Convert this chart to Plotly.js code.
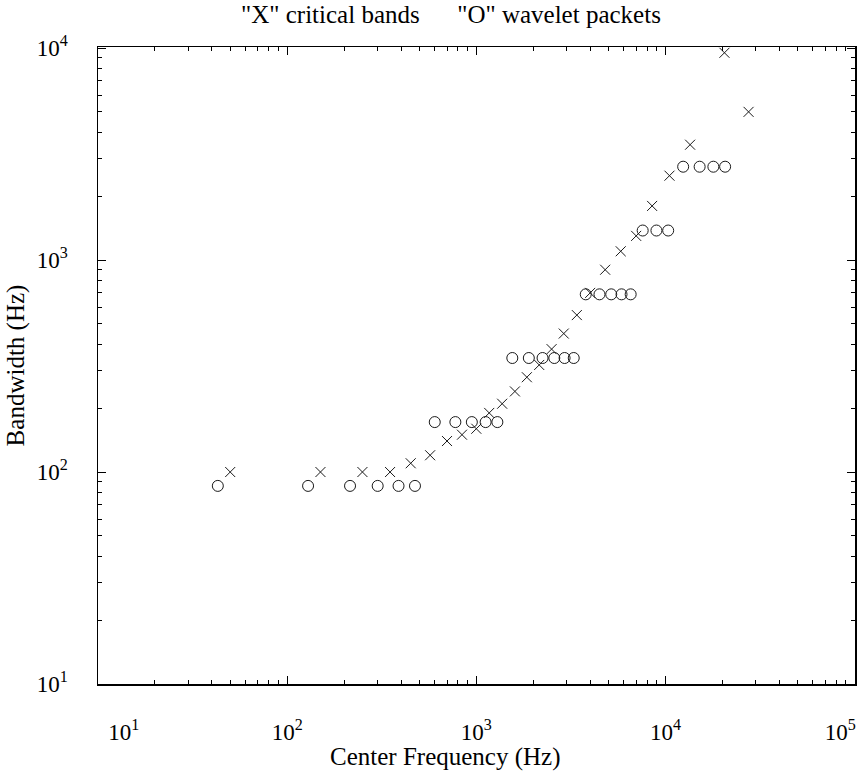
<!DOCTYPE html>
<html>
<head>
<meta charset="utf-8">
<script src="https://cdn.plot.ly/plotly-3.0.1.min.js"></script>
<style>html,body{margin:0;padding:0;background:#fff;}#chart{width:859px;height:771px;}</style>
</head>
<body>
<div id="chart"></div>
<script>
// Critical bands ("X")
const cbFreq = [50, 150, 250, 350, 450, 570, 700, 840, 1000, 1170, 1370, 1600, 1850, 2150, 2500, 2900, 3400, 4000, 4800, 5800, 7000, 8500, 10500, 13500, 20500, 27500];
const cbBw   = [100, 100, 100, 100, 110, 120, 140, 150, 160, 190, 210, 240, 280, 320, 380, 450, 550, 700, 900, 1100, 1300, 1800, 2500, 3500, 9500, 5000];
// Wavelet packets ("O")
const wpFreq = [43, 129, 215, 301, 388, 474, 603, 775, 947, 1120, 1292, 1550, 1895, 2240, 2584, 2929, 3273, 3790, 4479, 5168, 5857, 6546, 7579, 8958, 10336, 12403, 15159, 17916, 20672];
const wpBw   = [86, 86, 86, 86, 86, 86, 172, 172, 172, 172, 172, 345, 345, 345, 345, 345, 345, 689, 689, 689, 689, 689, 1378, 1378, 1378, 2756, 2756, 2756, 2756];
// Axis ticks
const NB = '\u00A0';
const ZW = '\u200B';
const xTickVals = [10, 100, 1000, 10000, 100000];
const xTickText = [NB.repeat(9) + '10<sup>1</sup>', '10<sup>2</sup>', '10<sup>3</sup>', '10<sup>4</sup>', '10<sup>5</sup>' + NB.repeat(5)];
const yTickVals = [10, 100, 1000, 10000];
const yTickText = ['10<sup>1</sup>', '10<sup>2</sup>', '10<sup>3</sup>', '10<sup>4</sup>'];

const ink = '#1a1a1a';
const serif = 'Liberation Serif, serif';

const traces = [
  {x: cbFreq, y: cbBw, type: 'scatter', mode: 'markers', name: 'critical bands',
   marker: {symbol: 'x-thin-open', size: 10, color: ink, line: {width: 1, color: ink}}},
  {x: wpFreq, y: wpBw, type: 'scatter', mode: 'markers', name: 'wavelet packets',
   marker: {symbol: 'circle-open', size: 11, color: ink, line: {width: 1, color: ink}}}
];

function makeAxis(extra) {
  return Object.assign({
    type: 'log', showgrid: false, zeroline: false, showline: true, linecolor: '#000', linewidth: 1.5,
    mirror: 'ticks', ticks: 'inside', ticklen: 8, tickwidth: 1, tickcolor: '#000',
    tickmode: 'array', tickfont: {family: serif, size: 23, color: '#000'},
    ticklabeloverflow: 'allow',
    minor: {ticks: 'inside', ticklen: 4, tickwidth: 1, tickcolor: '#000', dtick: 'D1', showgrid: false}
  }, extra);
}

const layout = {
  width: 859, height: 771,
  margin: {l: 98, r: 4, t: 47, b: 87},
  paper_bgcolor: '#fff', plot_bgcolor: '#fff',
  showlegend: false,
  font: {family: serif, color: '#000', size: 23},
  title: {text: '"X" critical bands' + NB.repeat(6) + '"O" wavelet packets',
          font: {family: serif, size: 25, color: '#000'}, x: 0.525, xanchor: 'center', y: 0.981, yanchor: 'middle'},
  xaxis: makeAxis({range: [1, 5.002], tickvals: xTickVals, ticktext: xTickText,
          ticklabelstandoff: 27,
          title: {text: 'Center Frequency (Hz)' + NB.repeat(10) + ZW, font: {family: serif, size: 25, color: '#000'}, standoff: 0}}),
  yaxis: makeAxis({range: [1, 4.005], tickvals: yTickVals, ticktext: yTickText,
          ticklabelstandoff: 24,
          title: {text: 'Bandwidth (Hz)', font: {family: serif, size: 25, color: '#000'}, standoff: 5}})
};

Plotly.newPlot('chart', traces, layout, {displayModeBar: false, staticPlot: true});
</script>
</body>
</html>
